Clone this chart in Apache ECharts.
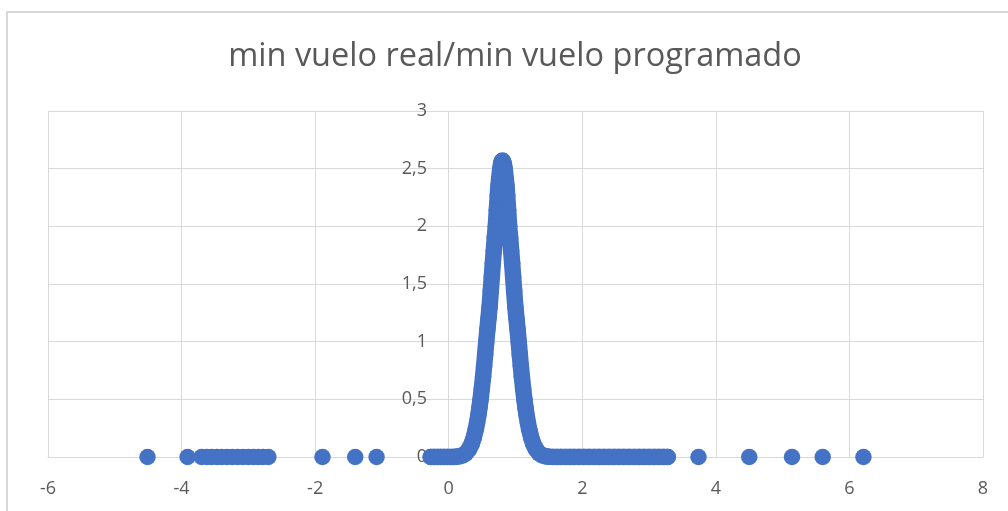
<!DOCTYPE html>
<html>
<head>
<meta charset="utf-8">
<style>
html,body{margin:0;padding:0;background:#fff;}
#chart{width:1008px;height:511px;}
</style>
<script src="https://cdn.jsdelivr.net/npm/echarts@6/dist/echarts.min.js"></script>
</head>
<body>
<div id="chart"></div>
<script>
const titleText = 'min vuelo real/min vuelo programado';
const xTicks = [-6, -4, -2, 0, 2, 4, 6, 8];
const yTicks = [0, 0.5, 1, 1.5, 2, 2.5, 3];

// Main dense cluster
const mainX = [
  -0.27, -0.22, -0.17, -0.12, -0.07, -0.02, 0.03, 0.07,
  0.105, 0.155, 0.205, 0.255, 0.305, 0.345, 0.375, 0.405, 0.425, 0.445,
  0.46, 0.477, 0.495, 0.515, 0.53, 0.545, 0.562, 0.58, 0.595, 0.612,
  0.63, 0.645, 0.66, 0.675, 0.69, 0.705, 0.72, 0.735, 0.745, 0.755,
  0.772, 0.785, 0.795, 0.805,
  0.815, 0.825, 0.838, 0.855, 0.865, 0.875, 0.89, 0.905, 0.92, 0.935,
  0.95, 0.965, 0.98, 0.998, 1.015, 1.03, 1.048, 1.065, 1.08, 1.095,
  1.115, 1.133, 1.15, 1.165, 1.185, 1.205, 1.235, 1.265, 1.305, 1.355,
  1.405, 1.455, 1.505,
  1.56, 1.62, 1.68, 1.75, 1.82, 1.88, 1.95, 2.02, 2.10, 2.18, 2.25, 2.33,
  2.40, 2.48, 2.55, 2.62, 2.70, 2.78, 2.85, 2.92, 3.00, 3.08, 3.15, 3.22, 3.28
];
const mainY = [
  0, 0, 0, 0, 0, 0, 0, 0.001,
  0.002, 0.006, 0.014, 0.032, 0.068, 0.116, 0.169, 0.240, 0.298, 0.367,
  0.426, 0.50, 0.589, 0.699, 0.789, 0.885, 1.00, 1.11, 1.20, 1.30,
  1.44, 1.56, 1.68, 1.79, 1.90, 2.00, 2.14, 2.27, 2.35, 2.41,
  2.50, 2.544, 2.564, 2.57,
  2.564, 2.544, 2.50, 2.41, 2.35, 2.27, 2.14, 2.00, 1.90, 1.79,
  1.68, 1.56, 1.44, 1.30, 1.20, 1.11, 1.00, 0.885, 0.789, 0.699,
  0.589, 0.50, 0.426, 0.367, 0.298, 0.240, 0.169, 0.116, 0.068, 0.032,
  0.014, 0.006, 0.002,
  0, 0, 0, 0, 0, 0, 0, 0, 0, 0, 0, 0,
  0, 0, 0, 0, 0, 0, 0, 0, 0, 0, 0, 0, 0
];

// Scattered outlying points
const outX = [-4.51, -3.91, -3.70, -3.62, -3.55, -3.47, -3.40, -3.32, -3.24, -3.16,
  -3.08, -3.00, -2.92, -2.85, -2.78, -2.70, -1.89, -1.40, -1.08,
  3.74, 4.50, 5.14, 5.60, 6.21];
const outY = [0, 0, 0, 0, 0, 0, 0, 0, 0, 0,
  0, 0, 0, 0, 0, 0, 0, 0, 0,
  0, 0, 0, 0, 0];

const mainData = mainX.map((x, i) => [x, mainY[i]]);
const outData = outX.map((x, i) => [x, outY[i]]);

const blue = '#4472C4';
const txt = '#595959';
const gridC = '#d9d9d9';
const fam = '"Open Sans", sans-serif';

const chart = echarts.init(document.getElementById('chart'), null, {renderer: 'canvas'});
chart.setOption({
  animation: false,
  backgroundColor: '#fff',
  graphic: [{
    type: 'rect',
    shape: {x: 7, y: 12, width: 1200, height: 700},
    style: {fill: 'none', stroke: gridC, lineWidth: 2},
    silent: true
  }],
  title: {
    text: titleText,
    left: 510,
    textAlign: 'center',
    top: 35,
    textStyle: {fontFamily: fam, fontSize: 32.5, fontWeight: 'normal', color: txt}
  },
  grid: {left: 48, right: 25, top: 111, bottom: 54, containLabel: false},
  xAxis: {
    type: 'value',
    min: xTicks[0], max: xTicks[xTicks.length - 1], interval: 2,
    axisLine: {show: true, lineStyle: {color: gridC, width: 1}},
    axisTick: {show: false},
    splitLine: {show: true, lineStyle: {color: gridC, width: 1}},
    axisLabel: {fontFamily: fam, fontSize: 18, color: txt, margin: 23}
  },
  yAxis: {
    type: 'value',
    min: yTicks[0], max: yTicks[yTicks.length - 1], interval: 0.5,
    offset: -401,
    axisLine: {show: false, onZero: false},
    axisTick: {show: false},
    splitLine: {show: true, lineStyle: {color: gridC, width: 1}},
    axisLabel: {fontFamily: fam, fontSize: 18, color: txt, margin: 22,
      padding: [5, 0, 0, 0],
      formatter: v => String(v).replace('.', ',')}
  },
  series: [
    {
      type: 'line',
      data: mainData,
      symbol: 'none',
      lineStyle: {color: blue, width: 16.5, cap: 'round', join: 'round'},
      z: 2
    },
    {
      type: 'scatter',
      data: mainData.concat(outData),
      symbol: 'circle',
      symbolSize: 16.5,
      itemStyle: {color: blue, opacity: 1},
      z: 3
    }
  ]
});
</script>
</body>
</html>
